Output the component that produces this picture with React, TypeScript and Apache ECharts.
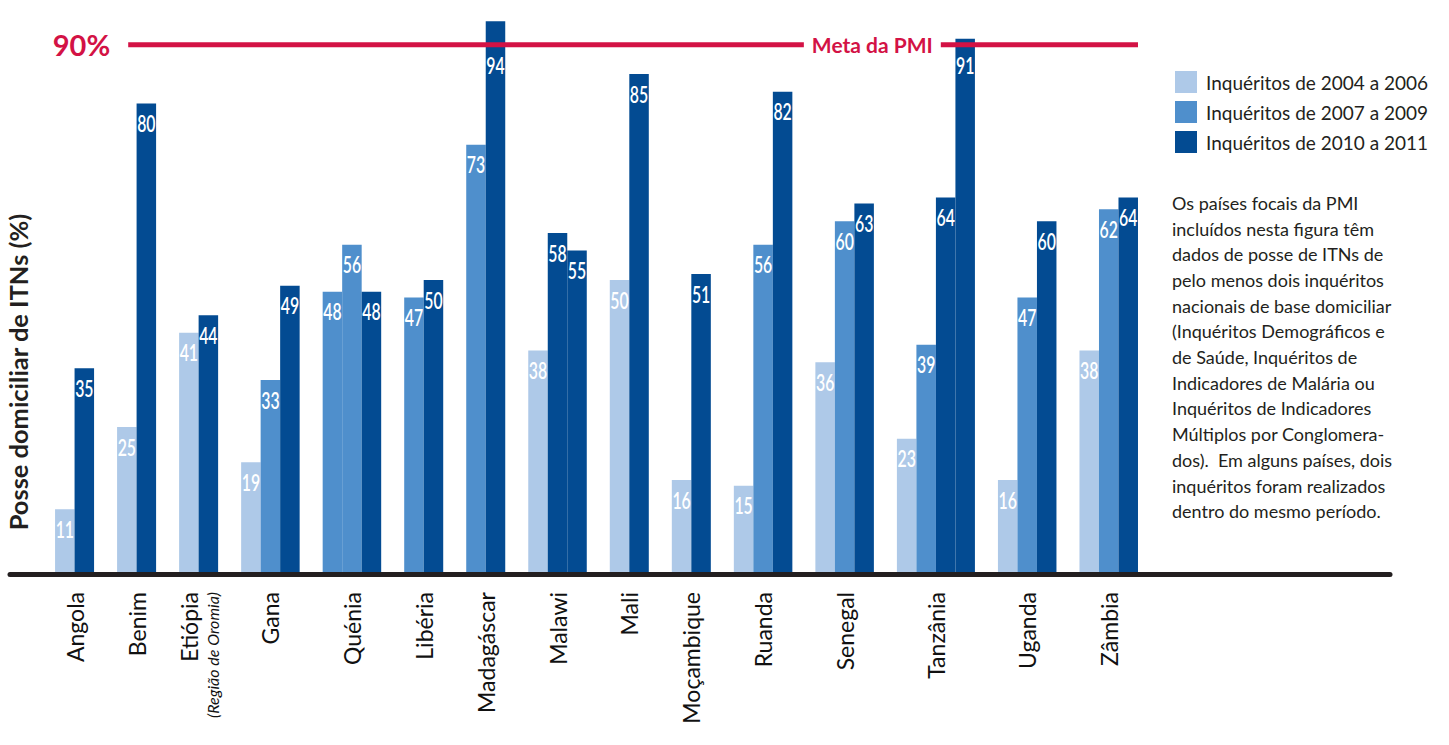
import React, { useEffect, useRef } from "react";
import * as echarts from "echarts";

// ---------- data ----------
const countries = [
  "Angola", "Benim", "Etiópia", "Gana", "Quénia", "Libéria", "Madagáscar", "Malawi",
  "Mali", "Moçambique", "Ruanda", "Senegal", "Tanzânia", "Uganda", "Zâmbia",
];
const countryNotes = ["", "", "(Região de Oromia)", "", "", "", "", "", "", "", "", "", "", "", ""];

const periods = [
  "Inquéritos de 2004 a 2006",
  "Inquéritos de 2007 a 2009",
  "Inquéritos de 2010 a 2011",
];

// one list per country (some countries had two surveys in the same period)
const surveys2004to2006 = [[11], [25], [41], [19], [], [], [], [38], [50], [16], [15], [36], [23], [16], [38]];
const surveys2007to2009 = [[], [], [], [33], [48, 56], [47], [73], [], [], [], [56], [60], [39], [47], [62]];
const surveys2010to2011 = [[35], [80], [44], [49], [48], [50], [94], [58, 55], [85], [51], [82], [63], [64, 91], [60], [64]];

const targetValue = 90;
const targetName = "Meta da PMI";
const targetTick = "90%";

const yAxisTitle = "Posse domiciliar de ITNs (%)";
const noteLines = [
  "Os países focais da PMI",
  "incluídos nesta figura têm",
  "dados de posse de ITNs de",
  "pelo menos dois inquéritos",
  "nacionais de base domiciliar",
  "(Inquéritos Demográficos e",
  "de Saúde, Inquéritos de",
  "Indicadores de Malária ou",
  "Inquéritos de Indicadores",
  "Múltiplos por Conglomera-",
  "dos).  Em alguns países, dois",
  "inquéritos foram realizados",
  "dentro do mesmo período.",
];

// ---------- styles ----------
const COLORS = ["#aec9e8", "#4f8fcc", "#034b92"];
const RED = "#d31245";
const INK = "#231f20";
const FONT = "Lato, 'Open Sans', sans-serif";
const GROUP_GAP = 1.18; // in bar widths

// ---------- layout from data (one axis unit = one bar width) ----------
const allSurveys = [surveys2004to2006, surveys2007to2009, surveys2010to2011];
const barData: number[][][] = [[], [], []];
const labelData: number[][] = [];
let cursor = 0;
countries.forEach((_, i) => {
  const start = cursor;
  allSurveys.forEach((arr, p) => {
    arr[i].forEach((v) => {
      barData[p].push([cursor, v]);
      cursor += 1;
    });
  });
  labelData.push([(start + cursor) / 2, 0, i]);
  cursor += GROUP_GAP;
});
const totalUnits = cursor - GROUP_GAP;

export default function App() {
  const ref = useRef<HTMLDivElement>(null);

  useEffect(() => {
    if (!ref.current) return;
    const chart = echarts.init(ref.current, undefined, { renderer: "svg" });

    const barSeries = periods.map((name, p) => ({
      type: "custom",
      name,
      itemStyle: { color: COLORS[p] },
      data: barData[p],
      z: 2,
      renderItem: (params: any, api: any) => {
        const x0 = api.value(0);
        const v = api.value(1);
        const tl = api.coord([x0, v]);
        const br = api.coord([x0 + 1, 0]);
        const lineY = api.coord([0, targetValue])[1];
        const top = tl[1];
        const ly = Math.max(top + 20, lineY + 21);
        return {
          type: "group",
          children: [
            {
              type: "rect",
              shape: { x: tl[0], y: top, width: br[0] - tl[0], height: br[1] - top },
              style: { fill: COLORS[p] },
            },
            {
              type: "text",
              x: (tl[0] + br[0]) / 2,
              y: ly,
              scaleX: 0.72,
              style: {
                text: String(v),
                fill: "#ffffff",
                font: `600 22px ${FONT}`,
                align: "center",
                verticalAlign: "middle",
              },
            },
          ],
        };
      },
    }));

    const countrySeries = {
      type: "custom",
      name: "countries",
      data: labelData,
      silent: true,
      z: 3,
      renderItem: (params: any, api: any) => {
        const c = api.coord([api.value(0), 0]);
        const idx = api.value(2);
        const note = countryNotes[idx];
        const children: any[] = [
          {
            type: "text",
            x: c[0] + (note ? -10 : 0),
            y: c[1] + 18,
            rotation: Math.PI / 2,
            style: {
              text: countries[idx],
              fill: "#111111",
              font: `23px ${FONT}`,
              align: "right",
              verticalAlign: "middle",
            },
          },
        ];
        if (note) {
          children.push({
            type: "text",
            x: c[0] + 14,
            y: c[1] + 18,
            rotation: Math.PI / 2,
            style: {
              text: note,
              fill: "#111111",
              font: `italic 16px ${FONT}`,
              align: "right",
              verticalAlign: "middle",
            },
          });
        }
        return { type: "group", children };
      },
    };

    const targetSeries = {
      type: "custom",
      name: "target",
      data: [[targetValue]],
      silent: true,
      z: 6,
      renderItem: (params: any, api: any) => {
        const y = api.coord([0, api.value(0)])[1];
        const xa = api.coord([3.75, 0])[0];
        const xb = api.coord([totalUnits, 0])[0];
        const xm = api.coord([41.9, 0])[0];
        return {
          type: "group",
          children: [
            {
              type: "line",
              shape: { x1: xa, y1: y, x2: xb, y2: y },
              style: { stroke: RED, lineWidth: 5 },
            },
            {
              type: "text",
              x: xm,
              y,
              style: {
                text: targetName,
                fill: RED,
                font: `bold 21px ${FONT}`,
                align: "center",
                verticalAlign: "middle",
                backgroundColor: "#ffffff",
                padding: [2, 8, 2, 8],
              },
            },
            {
              type: "text",
              x: xa - 18,
              y,
              style: {
                text: targetTick,
                fill: RED,
                font: `bold 29px ${FONT}`,
                align: "right",
                verticalAlign: "middle",
              },
            },
          ],
        };
      },
    };

    chart.setOption({
      animation: false,
      backgroundColor: "#ffffff",
      grid: { left: 10, right: 59, top: 10, bottom: 171 },
      xAxis: {
        type: "value",
        min: -2.31,
        max: 68.44,
        z: 5,
        axisLine: { show: true, lineStyle: { color: INK, width: 5 } },
        axisTick: { show: false },
        axisLabel: { show: false },
        splitLine: { show: false },
      },
      yAxis: {
        type: "value",
        min: 0,
        max: 95.9,
        show: false,
        splitLine: { show: false },
      },
      legend: {
        data: periods.map((name) => ({ name, icon: "rect" })),
        orient: "vertical",
        left: 1175,
        top: 71,
        padding: 0,
        itemWidth: 22,
        itemHeight: 22,
        itemGap: 8,
        selectedMode: false,
        textStyle: { fontFamily: FONT, fontSize: 19, color: INK, padding: [0, 0, 0, 4] },
      },
      graphic: [
        {
          type: "text",
          x: 19,
          y: 372,
          rotation: Math.PI / 2,
          scaleX: 1.06,
          style: {
            text: yAxisTitle,
            fill: INK,
            font: `bold 24px ${FONT}`,
            align: "center",
            verticalAlign: "middle",
          },
        },
        {
          type: "text",
          left: 1172,
          top: 190,
          style: {
            text: noteLines.join("\n"),
            fill: INK,
            font: `18px ${FONT}`,
            lineHeight: 25.7,
          },
        },
      ],
      series: [...barSeries, countrySeries, targetSeries],
    });

    return () => chart.dispose();
  }, []);

  return (
    <div
      ref={ref}
      style={{ position: "fixed", left: 0, top: 0, width: 1449, height: 745, background: "#fff" }}
    />
  );
}
